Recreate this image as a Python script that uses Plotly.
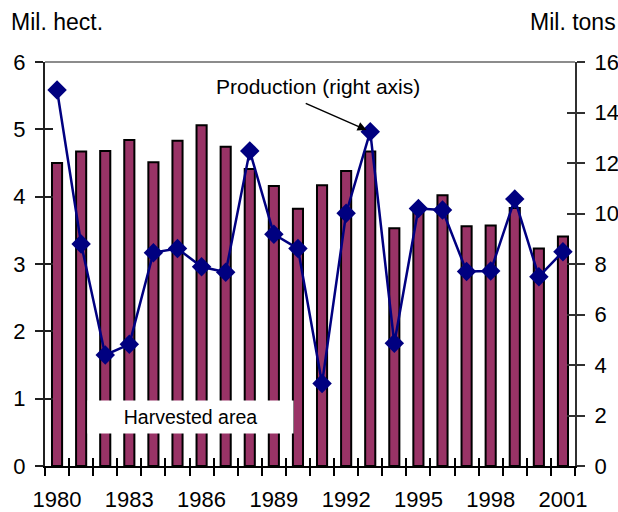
import plotly.graph_objects as go

years = list(range(1980, 2002))
area = [4.50, 4.67, 4.68, 4.84, 4.51, 4.83, 5.06, 4.74, 4.41, 4.16, 3.82,
        4.17, 4.38, 4.67, 3.53, 3.83, 4.02, 3.56, 3.57, 3.83, 3.23, 3.41]
production = [14.89, 8.79, 4.40, 4.82, 8.45, 8.61, 7.89, 7.67, 12.48, 9.18, 8.61,
              3.27, 10.01, 13.24, 4.86, 10.20, 10.14, 7.70, 7.72, 10.57, 7.50, 8.49]
xtick_years = [1980, 1983, 1986, 1989, 1992, 1995, 1998, 2001]
left_ticks = [0, 1, 2, 3, 4, 5, 6]
right_ticks = [0, 2, 4, 6, 8, 10, 12, 14, 16]

FONT = "Liberation Sans, Arial, sans-serif"
xr = [years[0] - 0.5, years[-1] + 0.5]
boundaries = [y - 0.5 for y in years] + [years[-1] + 0.5]

fig = go.Figure()
fig.add_trace(go.Bar(
    x=years, y=area, width=0.42,
    marker=dict(color="#993366", line=dict(color="black", width=2)),
    xaxis="x", yaxis="y", name="Harvested area",
))
fig.add_trace(go.Scatter(
    x=years, y=production, mode="lines+markers",
    line=dict(color="#000080", width=2.5),
    marker=dict(symbol="diamond", size=15, color="#000080"),
    xaxis="x", yaxis="y2", name="Production", cliponaxis=False,
))
# empty helper traces so overlay axes (inside tick halves) render
fig.add_trace(go.Scatter(x=[], y=[], xaxis="x2", yaxis="y3", showlegend=False))
fig.add_trace(go.Scatter(x=[], y=[], xaxis="x2", yaxis="y4", showlegend=False))

tickfont = dict(family=FONT, size=22, color="black")

fig.update_layout(
    width=618, height=512,
    margin=dict(l=45, r=43, t=62, b=46, autoexpand=False),
    paper_bgcolor="white", plot_bgcolor="white",
    showlegend=False,
    font=dict(family=FONT, color="black"),
    xaxis=dict(
        range=xr, showgrid=False, zeroline=False, automargin=False,
        showline=True, linecolor="black", linewidth=2,
        tickmode="array", tickvals=xtick_years, ticktext=[str(v) for v in xtick_years],
        ticks="", tickfont=tickfont, ticklabelstandoff=13,
        minor=dict(tickmode="array", tickvals=boundaries, ticks="outside",
                   ticklen=8, tickwidth=1.5, tickcolor="black", showgrid=False),
    ),
    xaxis2=dict(
        range=xr, overlaying="x", anchor="y", side="bottom", automargin=False,
        showgrid=False, zeroline=False, showline=False,
        tickmode="array", tickvals=boundaries, ticks="inside", ticklen=8,
        tickwidth=1.5, tickcolor="black", showticklabels=False,
    ),
    yaxis=dict(
        range=[0, 6], tickmode="array", tickvals=left_ticks, automargin=False,
        showgrid=False, zeroline=False,
        showline=True, linecolor="#202020", linewidth=2,
        ticks="outside", ticklen=8, tickwidth=1.5, tickcolor="#202020",
        tickfont=tickfont, ticklabelstandoff=5,
    ),
    yaxis3=dict(
        range=[0, 6], overlaying="y", anchor="x", side="left", automargin=False,
        tickmode="array", tickvals=left_ticks, showgrid=False, zeroline=False,
        ticks="inside", ticklen=8, tickwidth=1.5, tickcolor="#202020",
        showticklabels=False,
    ),
    yaxis2=dict(
        range=[0, 16], overlaying="y", anchor="x", side="right", automargin=False,
        tickmode="array", tickvals=right_ticks,
        showgrid=False, zeroline=False,
        showline=True, linecolor="#303030", linewidth=2,
        ticks="outside", ticklen=8, tickwidth=1.5, tickcolor="#303030",
        tickfont=tickfont, ticklabelstandoff=5,
    ),
    yaxis4=dict(
        range=[0, 16], overlaying="y", anchor="x", side="right", automargin=False,
        tickmode="array", tickvals=right_ticks, showgrid=False, zeroline=False,
        ticks="inside", ticklen=8, tickwidth=1.5, tickcolor="#303030",
        showticklabels=False,
    ),
    shapes=[dict(type="line", xref="paper", yref="paper", x0=0, x1=1, y0=1, y1=1,
                 line=dict(color="#8c8c8c", width=2))],
)

fig.add_annotation(text="Mil. hect.", xref="paper", yref="paper",
                   x=(9 - 45) / 530, y=(466 - 22) / 404, xanchor="left", yanchor="middle",
                   showarrow=False, font=dict(family=FONT, size=23, color="black"))
fig.add_annotation(text="Mil. tons", xref="paper", yref="paper",
                   x=(528 - 45) / 530, y=(466 - 22) / 404, xanchor="left", yanchor="middle",
                   showarrow=False, font=dict(family=FONT, size=23, color="black"))
fig.add_annotation(text="Production (right axis)", xref="paper", yref="paper",
                   x=(318 - 45) / 530, y=(466 - 86) / 404, xanchor="center", yanchor="middle",
                   showarrow=False, font=dict(family=FONT, size=21, color="black"))
fig.add_annotation(text="", x=1993, y=production[13], xref="x", yref="y2",
                   showarrow=True, arrowhead=2, arrowsize=1.2, arrowwidth=1.5,
                   arrowcolor="black", ax=-66, ay=-29, standoff=4)
fig.add_annotation(text="Harvested area", xref="paper", yref="paper",
                   x=(190 - 45) / 530, y=(466 - 417) / 404, xanchor="center", yanchor="middle",
                   showarrow=False, bgcolor="white", width=203, height=30,
                   font=dict(family=FONT, size=19.5, color="black"))

fig.write_html("out.html", config={"displayModeBar": False},
               post_script="document.body.style.margin='0';")
